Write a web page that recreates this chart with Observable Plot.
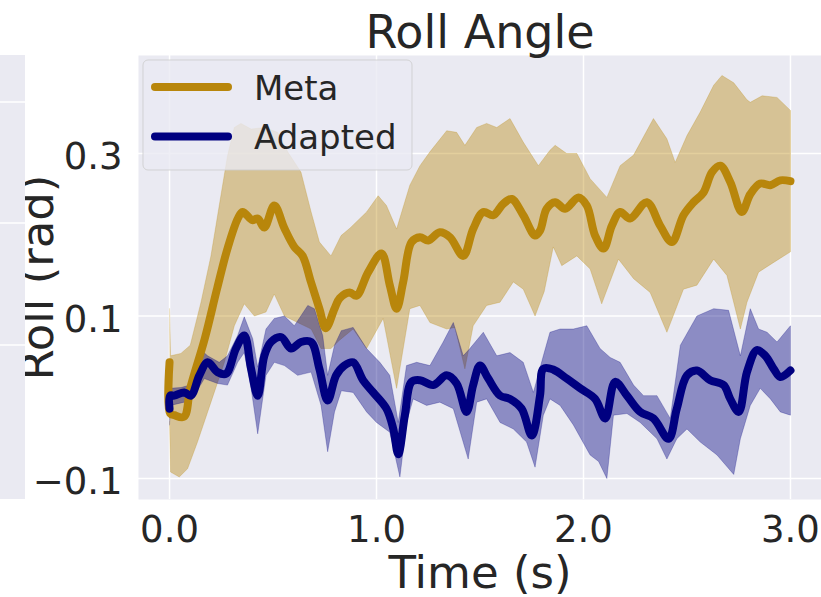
<!DOCTYPE html>
<html>
<head>
<meta charset="utf-8">
<script src="https://cdn.jsdelivr.net/npm/d3@7"></script>
<script src="https://cdn.jsdelivr.net/npm/@observablehq/plot@0.6"></script>
<style>
  html, body { margin: 0; padding: 0; background: #ffffff; }
  #chart { width: 821px; height: 597px; overflow: hidden; }
</style>
</head>
<body>
<div id="chart"></div>
<script>
// ---------- data (time in s, roll in rad) ----------
const title = "Roll Angle";
const xLabel = "Time (s)";
const yLabel = "Roll (rad)";
const seriesNames = ["Meta", "Adapted"];
const seriesColors = ["#B8860B", "#000080"];
const xTicks = [0, 1, 2, 3];
const yTicks = [0.3, 0.1, -0.1];

const metaMean = [[0.0,0.043],[0.003,-0.02],[0.023,-0.022],[0.07,-0.024],[0.10,0.011],[0.17,0.072],[0.23,0.134],[0.28,0.183],[0.33,0.22],[0.353,0.228],[0.40,0.218],[0.426,0.22],[0.458,0.209],[0.506,0.236],[0.555,0.208],[0.603,0.185],[0.643,0.174],[0.683,0.142],[0.724,0.109],[0.755,0.085],[0.797,0.109],[0.822,0.122],[0.871,0.129],[0.903,0.125],[0.96,0.154],[1.024,0.177],[1.064,0.138],[1.097,0.109],[1.129,0.142],[1.169,0.191],[1.21,0.197],[1.25,0.193],[1.306,0.203],[1.355,0.197],[1.419,0.174],[1.467,0.207],[1.516,0.228],[1.564,0.224],[1.612,0.238],[1.653,0.244],[1.709,0.224],[1.766,0.199],[1.79,0.205],[1.822,0.232],[1.863,0.24],[1.911,0.232],[1.976,0.246],[2.016,0.236],[2.056,0.199],[2.097,0.183],[2.137,0.211],[2.177,0.228],[2.225,0.22],[2.306,0.24],[2.371,0.211],[2.427,0.191],[2.483,0.224],[2.532,0.24],[2.58,0.252],[2.621,0.277],[2.661,0.285],[2.709,0.265],[2.765,0.228],[2.806,0.25],[2.854,0.263],[2.903,0.261],[2.951,0.267],[3.0,0.266]];
const metaUpper = [[0.0,0.109],[0.005,0.051],[0.055,0.054],[0.10,0.064],[0.152,0.117],[0.20,0.174],[0.248,0.248],[0.28,0.297],[0.313,0.332],[0.345,0.337],[0.394,0.33],[0.458,0.332],[0.522,0.326],[0.571,0.302],[0.635,0.277],[0.684,0.228],[0.724,0.191],[0.78,0.174],[0.829,0.199],[0.871,0.208],[0.952,0.228],[1.008,0.248],[1.048,0.236],[1.097,0.207],[1.161,0.261],[1.21,0.285],[1.258,0.302],[1.339,0.328],[1.387,0.326],[1.427,0.31],[1.484,0.332],[1.532,0.337],[1.581,0.332],[1.645,0.343],[1.709,0.314],[1.782,0.285],[1.838,0.304],[1.863,0.31],[1.919,0.3],[1.968,0.3],[2.032,0.269],[2.113,0.246],[2.177,0.285],[2.242,0.298],[2.338,0.343],[2.403,0.318],[2.443,0.289],[2.5,0.322],[2.564,0.351],[2.629,0.384],[2.669,0.396],[2.726,0.387],[2.79,0.366],[2.806,0.363],[2.863,0.371],[2.935,0.369],[3.0,0.353]];
const metaLower = [[0.0,-0.03],[0.005,-0.092],[0.047,-0.098],[0.087,-0.088],[0.135,-0.055],[0.2,-0.006],[0.265,0.043],[0.313,0.088],[0.361,0.115],[0.41,0.1],[0.466,0.105],[0.506,0.127],[0.555,0.1],[0.619,0.092],[0.684,0.084],[0.732,0.06],[0.78,0.06],[0.82,0.07],[0.887,0.084],[0.952,0.06],[1.032,0.097],[1.097,0.011],[1.161,0.109],[1.21,0.113],[1.258,0.092],[1.339,0.084],[1.379,0.086],[1.427,0.035],[1.467,0.088],[1.532,0.113],[1.597,0.117],[1.661,0.142],[1.709,0.133],[1.766,0.1],[1.81,0.13],[1.854,0.185],[1.895,0.162],[1.968,0.174],[2.032,0.158],[2.088,0.115],[2.169,0.17],[2.242,0.146],[2.322,0.129],[2.403,0.08],[2.483,0.133],[2.548,0.138],[2.629,0.17],[2.693,0.15],[2.758,0.084],[2.79,0.117],[2.846,0.154],[2.919,0.166],[3.0,0.179]];

const adaptedMean = [[0.0,-0.014],[0.003,0.002],[0.023,0.002],[0.071,0.006],[0.103,0.002],[0.144,0.027],[0.184,0.043],[0.232,0.031],[0.273,0.029],[0.321,0.06],[0.361,0.076],[0.394,0.035],[0.426,0.002],[0.458,0.051],[0.49,0.068],[0.539,0.074],[0.587,0.06],[0.635,0.068],[0.684,0.068],[0.724,0.035],[0.764,-0.004],[0.805,0.027],[0.845,0.039],[0.887,0.043],[0.935,0.021],[0.984,0.006],[1.048,-0.014],[1.081,-0.039],[1.105,-0.07],[1.137,-0.022],[1.169,0.019],[1.21,0.021],[1.274,0.015],[1.339,0.027],[1.387,0.017],[1.435,-0.018],[1.467,0.015],[1.5,0.039],[1.54,0.023],[1.597,0.002],[1.645,-0.002],[1.701,-0.014],[1.75,-0.047],[1.79,0.002],[1.806,0.035],[1.854,0.034],[1.919,0.023],[1.984,0.011],[2.056,-0.002],[2.105,-0.026],[2.153,0.019],[2.21,0.002],[2.274,-0.018],[2.338,-0.026],[2.411,-0.051],[2.451,-0.014],[2.5,0.027],[2.548,0.033],[2.612,0.021],[2.677,0.015],[2.709,-0.002],[2.75,-0.018],[2.79,0.031],[2.838,0.058],[2.879,0.051],[2.919,0.035],[2.951,0.025],[3.0,0.033]];
const adaptedUpper = [[0.0,0.011],[0.055,0.012],[0.10,0.015],[0.144,0.06],[0.184,0.051],[0.24,0.043],[0.28,0.051],[0.329,0.076],[0.361,0.099],[0.402,0.072],[0.426,0.037],[0.466,0.084],[0.506,0.097],[0.555,0.1],[0.603,0.088],[0.668,0.113],[0.70,0.109],[0.74,0.076],[0.764,0.027],[0.797,0.064],[0.83,0.082],[0.887,0.086],[0.952,0.06],[1.016,0.043],[1.064,0.027],[1.105,-0.031],[1.145,0.039],[1.194,0.043],[1.258,0.039],[1.322,0.068],[1.371,0.092],[1.419,0.051],[1.451,0.06],[1.516,0.08],[1.581,0.051],[1.645,0.055],[1.709,0.043],[1.758,0.006],[1.806,0.051],[1.838,0.08],[1.887,0.084],[1.951,0.084],[2.016,0.088],[2.08,0.06],[2.129,0.049],[2.177,0.043],[2.242,0.015],[2.29,0.002],[2.355,0.002],[2.419,-0.026],[2.468,0.064],[2.548,0.1],[2.629,0.109],[2.701,0.107],[2.758,0.051],[2.806,0.109],[2.846,0.084],[2.887,0.08],[2.935,0.068],[3.0,0.088]];
const adaptedLower = [[0.0,-0.034],[0.005,-0.01],[0.071,-0.006],[0.119,0.002],[0.168,0.023],[0.232,0.017],[0.28,0.015],[0.329,0.043],[0.361,0.055],[0.394,0.011],[0.426,-0.045],[0.466,0.027],[0.506,0.043],[0.555,0.039],[0.619,0.027],[0.684,0.031],[0.732,-0.01],[0.764,-0.067],[0.797,-0.018],[0.83,0.008],[0.887,0.006],[0.952,-0.018],[1.0,-0.031],[1.064,-0.043],[1.113,-0.098],[1.145,-0.031],[1.177,-0.002],[1.242,-0.01],[1.306,-0.006],[1.371,-0.014],[1.443,-0.076],[1.484,-0.006],[1.532,-0.002],[1.597,-0.031],[1.661,-0.039],[1.725,-0.055],[1.766,-0.086],[1.806,-0.022],[1.838,-0.002],[1.887,-0.01],[1.951,-0.034],[2.032,-0.071],[2.073,-0.079],[2.113,-0.1],[2.145,-0.022],[2.21,-0.02],[2.274,-0.031],[2.355,-0.051],[2.403,-0.076],[2.451,-0.051],[2.5,-0.039],[2.564,-0.055],[2.645,-0.071],[2.726,-0.095],[2.758,-0.051],[2.806,-0.01],[2.854,0.011],[2.903,-0.002],[2.951,-0.018],[3.0,-0.022]];

// ---------- layout ----------
const W = 821, H = 597;
const M = {top: 55, right: 0, bottom: 98, left: 138};
const BG = "#EAEAF2";
const INK = "#262626";
const FONT = "'DejaVu Sans', 'Liberation Sans', sans-serif";

const band = (up, lo) => up.concat(lo.slice().reverse());
const fmt = d => (d < 0 ? "\u2212" : "") + Math.abs(d).toFixed(1);
const X = d => d[0], Y = d => d[1];

// neighbour subplot sliver at the left edge + legend, drawn in frame pixels
function decorations(index, scales, values, dims) {
  const g = d3.create("svg:g");
  const strip = g.append("g");
  strip.append("rect").attr("x", 0).attr("y", dims.marginTop).attr("width", 25)
    .attr("height", dims.height - dims.marginTop - dims.marginBottom).attr("fill", BG);
  [47, 168, 290].forEach(o => strip.append("line").attr("x1", 0).attr("x2", 25)
    .attr("y1", dims.marginTop + o).attr("y2", dims.marginTop + o)
    .attr("stroke", "white").attr("stroke-width", 1.5));
  const lg = g.append("g").attr("transform", `translate(${dims.marginLeft + 5},${dims.marginTop + 5})`);
  lg.append("rect").attr("width", 269).attr("height", 110).attr("rx", 5)
    .attr("fill", BG).attr("fill-opacity", 0.8)
    .attr("stroke", "#cccccc").attr("stroke-opacity", 0.8).attr("stroke-width", 1);
  seriesNames.forEach((name, i) => {
    const y = 27 + i * 49.5;
    lg.append("line").attr("x1", 12).attr("x2", 85).attr("y1", y).attr("y2", y)
      .attr("stroke", seriesColors[i]).attr("stroke-width", 8).attr("stroke-linecap", "round");
    lg.append("text").attr("x", 111).attr("y", y + 12.5).text(name)
      .attr("text-anchor", "start")
      .attr("fill", INK).attr("font-size", 34).attr("font-family", FONT);
  });
  return g.node();
}

const smooth = "catmull-rom";

const plot = Plot.plot({
  width: W, height: H,
  marginTop: M.top, marginRight: M.right, marginBottom: M.bottom, marginLeft: M.left,
  style: {fontFamily: FONT, background: "white", color: INK, overflow: "visible"},
  x: {domain: [-0.15, 3.15]},
  y: {domain: [-0.1258, 0.4206]},
  marks: [
    Plot.frame({fill: BG, stroke: null}),
    Plot.gridX(xTicks, {stroke: "white", strokeOpacity: 1, strokeWidth: 1.5}),
    Plot.gridY(yTicks, {stroke: "white", strokeOpacity: 1, strokeWidth: 1.5}),
    Plot.line(band(metaUpper, metaLower), {x: X, y: Y, fill: seriesColors[0], fillOpacity: 0.4,
      stroke: seriesColors[0], strokeOpacity: 0.25, strokeWidth: 1, curve: "linear"}),
    Plot.line(band(adaptedUpper, adaptedLower), {x: X, y: Y, fill: seriesColors[1], fillOpacity: 0.4,
      stroke: seriesColors[1], strokeOpacity: 0.25, strokeWidth: 1, curve: "linear"}),
    Plot.line(metaMean, {x: X, y: Y, stroke: seriesColors[0], strokeWidth: 8, curve: smooth,
      strokeLinejoin: "round", strokeLinecap: "round"}),
    Plot.line(adaptedMean, {x: X, y: Y, stroke: seriesColors[1], strokeWidth: 8, curve: smooth,
      strokeLinejoin: "round", strokeLinecap: "round"}),
    Plot.axisX({ticks: xTicks, tickFormat: fmt, tickSize: 0, tickPadding: 16,
      fontSize: 37, label: null, fill: INK}),
    Plot.axisY({ticks: yTicks, tickFormat: fmt, tickSize: 0, tickPadding: 16,
      fontSize: 37, label: null, fill: INK, dy: 4}),
    Plot.text([title], {frameAnchor: "top", lineAnchor: "bottom", dy: -8,
      fontSize: 46, fill: INK}),
    Plot.text([xLabel], {frameAnchor: "bottom", lineAnchor: "bottom", dy: 88,
      fontSize: 45, fill: INK}),
    Plot.text([yLabel], {frameAnchor: "left", textAnchor: "middle", lineAnchor: "bottom",
      rotate: -90, dx: -86, fontSize: 45, fill: INK}),
    decorations
  ]
});
document.getElementById("chart").append(plot);
</script>
</body>
</html>
